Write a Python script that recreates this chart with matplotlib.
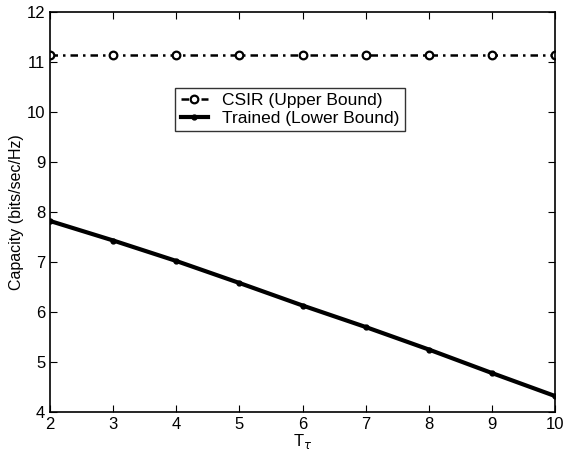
import matplotlib
matplotlib.use('Agg')
import matplotlib.pyplot as plt
import numpy as np

plt.rcParams['font.family'] = ['Liberation Sans', 'DejaVu Sans']

T = [2, 3, 4, 5, 6, 7, 8, 9, 10]
csir = [11.15, 11.15, 11.15, 11.15, 11.15, 11.15, 11.15, 11.15, 11.15]
trained = [7.82, 7.43, 7.02, 6.58, 6.13, 5.70, 5.25, 4.78, 4.32]

fig = plt.figure(figsize=(5.64, 4.55), dpi=100)
ax = fig.add_axes([0.089, 0.0945, 0.895, 0.879])

ax.plot(T, csir, color='black', linestyle=(0, (3, 2, 1, 2)), linewidth=1.8,
        marker='o', markersize=5.5, markerfacecolor='white', markeredgewidth=1.6,
        label='CSIR (Upper Bound)')
ax.plot(T, trained, color='black', linestyle='-', linewidth=3,
        marker='.', markersize=7, label='Trained (Lower Bound)')

ax.set_xlim(2, 10)
ax.set_ylim(4, 12)
ax.set_xticks(range(2, 11))
ax.set_yticks(range(4, 13))
ax.tick_params(direction='in', top=True, right=True, labelsize=12, length=5)
ax.set_xlabel(r'T$_\tau$', fontsize=12, labelpad=0)
ax.set_ylabel('Capacity (bits/sec/Hz)', fontsize=11.5, labelpad=2)
for s in ax.spines.values():
    s.set_linewidth(1.2)

leg = ax.legend(loc='upper left', bbox_to_anchor=(0.248, 0.81), fontsize=12.5,
                frameon=True, fancybox=False, edgecolor='black', borderpad=0.3,
                handlelength=1.6, labelspacing=0.15, borderaxespad=0)
leg.get_frame().set_linewidth(1.0)

fig.savefig('out.png', dpi=100)
